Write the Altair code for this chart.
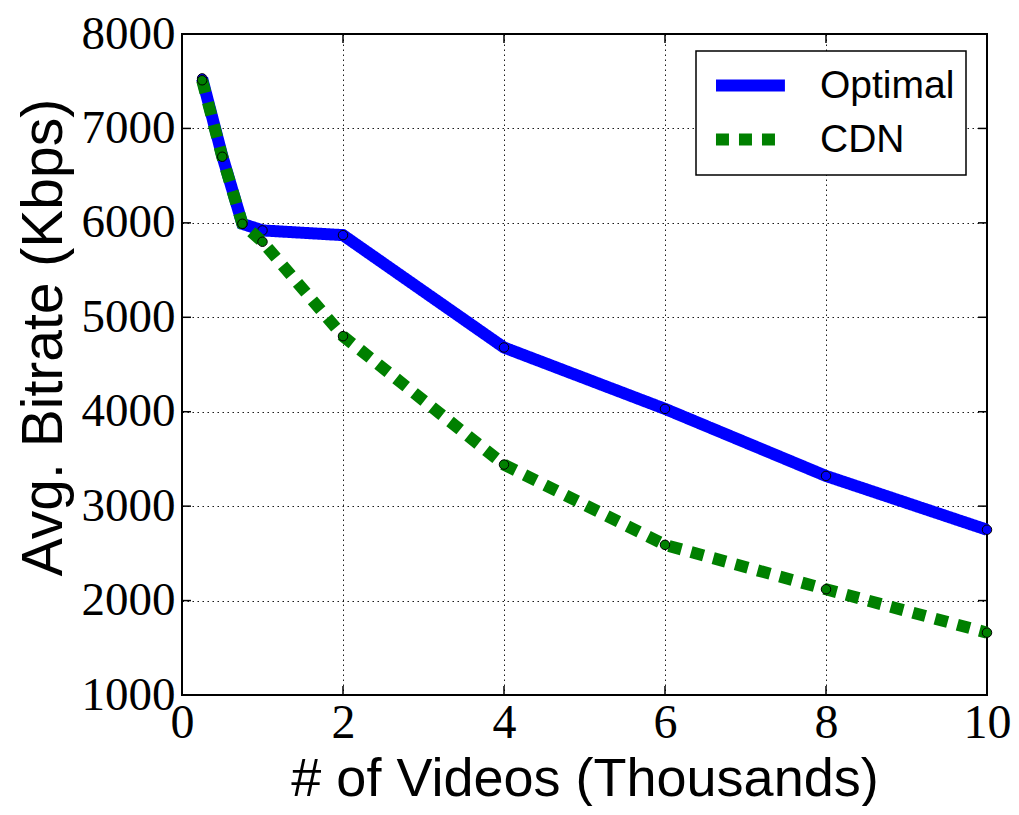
import altair as alt
import pandas as pd

# ---- data ----
videos_k = [0.25, 0.5, 0.75, 1, 2, 4, 6, 8, 10]
optimal = [7530, 6710, 5990, 5920, 5870, 4680, 4030, 3320, 2750]
cdn = [7510, 6700, 5990, 5800, 4800, 3440, 2590, 2120, 1660]
series_names = ["Optimal", "CDN"]
series_colors = ["#0000ff", "#008000"]
x_ticks = [0, 2, 4, 6, 8, 10]
y_ticks = [1000, 2000, 3000, 4000, 5000, 6000, 7000, 8000]

rows = []
for name, vals in zip(series_names, [optimal, cdn]):
    for xv, yv in zip(videos_k, vals):
        rows.append({"x": xv, "y": yv, "series": name})
df = pd.DataFrame(rows)

W, H = 805, 661

xscale = alt.Scale(domain=[0, 10], nice=False, zero=False)
yscale = alt.Scale(domain=[1000, 8000], nice=False, zero=False)
color_scale = alt.Scale(domain=series_names, range=series_colors)
dash_scale = alt.Scale(domain=series_names, range=[[1, 0], [13, 10]])

xaxis = alt.Axis(values=x_ticks, format="d", title="# of Videos (Thousands)", ticks=False,
                 domain=False, labelFont="Liberation Serif", labelFontSize=48, labelPadding=4,
                 titleFont="Liberation Sans", titleFontSize=54, titleFontWeight="normal",
                 titleBaseline="alphabetic", titleY=100, grid=True, labelFlush=False)
yaxis = alt.Axis(values=y_ticks, format="d", title="Avg. Bitrate (Kbps)", ticks=False,
                 domain=False, labelFont="Liberation Serif", labelFontSize=47, labelPadding=7,
                 titleFont="Liberation Sans", titleFontSize=57, titleFontWeight="normal",
                 titlePadding=8, titleY=303, grid=True, labelFlush=False)

base = alt.Chart(df)


def line_layer(name):
    return base.transform_filter(alt.datum.series == name).mark_line(
        strokeWidth=12, strokeCap="butt", strokeJoin="miter"
    ).encode(
        x=alt.X("x:Q", scale=xscale, axis=xaxis),
        y=alt.Y("y:Q", scale=yscale, axis=yaxis),
        color=alt.Color("series:N", scale=color_scale, title=None,
                        legend=alt.Legend(orient="none", legendX=514, legendY=17,
                                          direction="vertical")),
        strokeDash=alt.StrokeDash("series:N", scale=dash_scale, title=None),
    )


def point_layer(name, col):
    return base.transform_filter(alt.datum.series == name).mark_point(
        filled=True, fill=col, stroke="black", strokeWidth=1, size=90, opacity=1,
        shape="circle"
    ).encode(
        x=alt.X("x:Q", scale=xscale),
        y=alt.Y("y:Q", scale=yscale),
    )


tick_style = dict(color="black", strokeWidth=1.5)
xt = pd.DataFrame({"v": x_ticks})
yt = pd.DataFrame({"v": y_ticks})
tick_bottom = alt.Chart(xt).mark_rule(**tick_style).encode(
    x=alt.X("v:Q", scale=xscale), y=alt.value(H), y2=alt.value(H - 9))
tick_top = alt.Chart(xt).mark_rule(**tick_style).encode(
    x=alt.X("v:Q", scale=xscale), y=alt.value(0), y2=alt.value(9))
tick_left = alt.Chart(yt).mark_rule(**tick_style).encode(
    y=alt.Y("v:Q", scale=yscale), x=alt.value(0), x2=alt.value(9))
tick_right = alt.Chart(yt).mark_rule(**tick_style).encode(
    y=alt.Y("v:Q", scale=yscale), x=alt.value(W), x2=alt.value(W - 9))

chart = alt.layer(
    line_layer("Optimal"), point_layer("Optimal", series_colors[0]),
    line_layer("CDN"), point_layer("CDN", series_colors[1]),
    tick_bottom, tick_top, tick_left, tick_right,
).properties(
    width=W, height=H,
    autosize=alt.AutoSizeParams(type="none"),
    padding={"left": 174, "top": 26, "right": 24, "bottom": 111},
).configure_view(
    stroke="black", strokeWidth=2
).configure_axis(
    gridColor="black", gridDash=[1.5, 3.5], gridWidth=1, gridOpacity=0.9,
    labelColor="black", titleColor="black",
).configure_legend(
    fillColor="white", strokeColor="black", strokeWidth=1.5, cornerRadius=0,
    padding=11, rowPadding=5,
    symbolType="M-0.83,0L3.11,0", symbolSize=1225, symbolStrokeWidth=12,
    symbolOffset=0, labelOffset=66,
    labelFont="Liberation Sans", labelFontSize=39, labelColor="black", labelLimit=400,
)

chart.save("out.html", embed_options={"renderer": "svg", "actions": False})
